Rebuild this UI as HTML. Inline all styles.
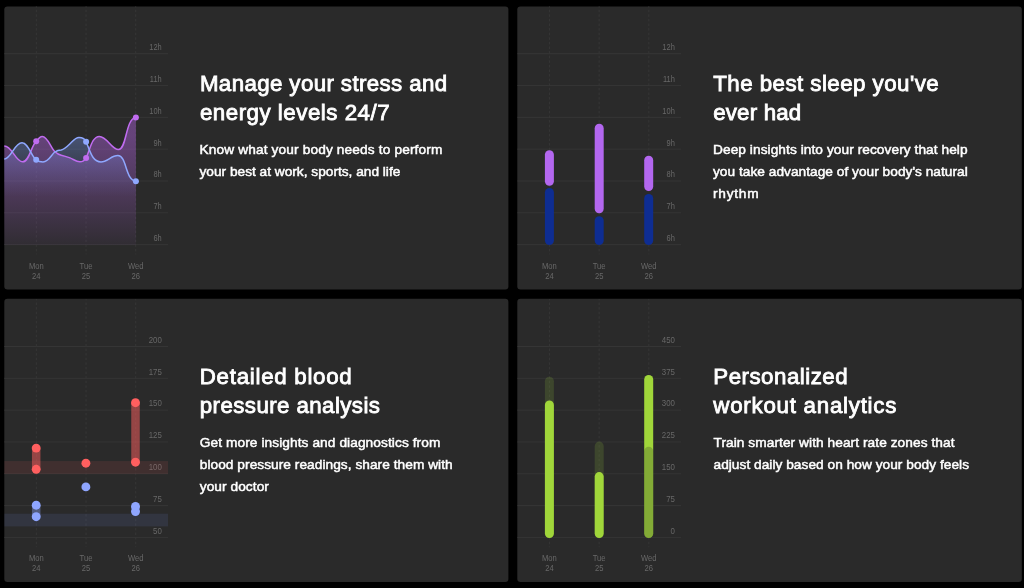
<!DOCTYPE html>
<html lang="en">
<head>
<meta charset="utf-8">
<title>Health insights</title>
<style>
html,body{margin:0;padding:0;background:#000;}
body{width:1024px;height:588px;position:relative;overflow:hidden;font-family:"Liberation Sans",sans-serif;}
#gfx{position:absolute;left:0;top:0;width:1024px;height:588px;display:block;}
.card{position:absolute;width:504px;height:283px;}
.card h2{position:absolute;left:195.6px;top:63.3px;margin:0;font-size:22.3px;line-height:29px;font-weight:normal;color:#fff;-webkit-text-stroke:0.85px #fff;white-space:nowrap;}
.card p{position:absolute;left:195.5px;top:132.7px;margin:0;font-size:13.7px;line-height:22.2px;font-weight:normal;color:#fff;-webkit-text-stroke:0.5px #fff;white-space:nowrap;}
.card span{display:block;}
#c1 h2{left:195.6px;top:62.5px}#c3 h2{left:195.5px;top:63px}#c2 h2{left:195.2px;top:62.5px}#c4 h2{left:195.3px;top:63px}#c2 p{left:195px}#c1 p{left:195.2px}
#c1{left:4.3px;top:6.4px;}
#c2{left:518px;top:6.4px;}
#c3{left:4.3px;top:298.9px;}
#c4{left:518px;top:298.9px;}
svg text{font-family:"Liberation Sans",sans-serif;font-size:8.3px;fill:#686868;}
.grid line{stroke:#353535;stroke-width:1;}
.vgrid line{stroke:#363636;stroke-width:1;stroke-dasharray:2.5 2.1;stroke-dashoffset:1.3;}
</style>
</head>
<body>
<svg id="gfx" width="1024" height="588" viewBox="0 0 1024 588">
  <defs>
    <g id="grid">
      <g class="grid">
        <line x1="0" x2="163.7" y1="47.3" y2="47.3"/>
        <line x1="0" x2="163.7" y1="79.12" y2="79.12"/>
        <line x1="0" x2="163.7" y1="110.94" y2="110.94"/>
        <line x1="0" x2="163.7" y1="142.76" y2="142.76"/>
        <line x1="0" x2="163.7" y1="174.58" y2="174.58"/>
        <line x1="0" x2="163.7" y1="206.4" y2="206.4"/>
        <line x1="0" x2="163.7" y1="238.22" y2="238.22"/>
      </g>
      <g class="vgrid">
        <line x1="32" x2="32" y1="0" y2="248"/>
        <line x1="81.75" x2="81.75" y1="0" y2="248"/>
        <line x1="131.4" x2="131.4" y1="0" y2="248"/>
      </g>
      <g text-anchor="middle">
        <g transform="translate(32 0) scale(0.92 1)"><text x="0" y="262.2">Mon</text><text x="0" y="272.2">24</text></g>
        <g transform="translate(81.75 0) scale(0.92 1)"><text x="0" y="262.2">Tue</text><text x="0" y="272.2">25</text></g>
        <g transform="translate(131.4 0) scale(0.92 1)"><text x="0" y="262.2">Wed</text><text x="0" y="272.2">26</text></g>
      </g>
    </g>
    <g id="hours" text-anchor="end" transform="translate(157.4 0) scale(0.9 1)">
      <text x="0" y="43.65">12h</text>
      <text x="0" y="75.47">11h</text>
      <text x="0" y="107.29">10h</text>
      <text x="0" y="139.11">9h</text>
      <text x="0" y="170.93">8h</text>
      <text x="0" y="202.75">7h</text>
      <text x="0" y="234.57">6h</text>
    </g>
    <linearGradient id="gp" x1="0" y1="130" x2="0" y2="239" gradientUnits="userSpaceOnUse">
      <stop offset="0" stop-color="#b866ea" stop-opacity="0.42"/>
      <stop offset="0.5" stop-color="#b866ea" stop-opacity="0.25"/>
      <stop offset="1" stop-color="#b866ea" stop-opacity="0.045"/>
    </linearGradient>
    <linearGradient id="gb" x1="0" y1="130" x2="0" y2="239" gradientUnits="userSpaceOnUse">
      <stop offset="0" stop-color="#7ea0ff" stop-opacity="0.35"/>
      <stop offset="0.55" stop-color="#7ea0ff" stop-opacity="0.0"/>
      <stop offset="1" stop-color="#7ea0ff" stop-opacity="0"/>
    </linearGradient>
  </defs>

  <!-- cards -->
  <rect x="4.3" y="6.4" width="504.1" height="283.1" rx="3.2" fill="#2a2a2a"/>
  <rect x="517.3" y="6.4" width="504.5" height="283.1" rx="3.2" fill="#2a2a2a"/>
  <rect x="4.3" y="298.85" width="504.1" height="283.05" rx="3.2" fill="#2a2a2a"/>
  <rect x="517.3" y="298.85" width="504.5" height="283.05" rx="3.2" fill="#2a2a2a"/>

  <!-- chart 1 : stress / energy -->
  <use href="#grid" x="4.3" y="6.4"/><use href="#hours" x="4.3" y="6.4"/>
  <g transform="translate(4.3 6.4)">
    <path d="M0 139.6 C8 139.6 11 155.4 18.4 155.4 C25 155.4 27 139 31.9 134.9 C34 132 36 130 38 130 C43.5 130 46 141 50.7 145.4 C53 147.6 55 148.4 56.9 148.8 C60 149.5 63 150.5 65.7 151.5 C69 152.8 72 155.4 75.6 155.4 C79 155.4 81 153 81.8 151.6 C86 142 88 130 95 130 C103 130 107 143.2 114.3 143.2 C122.5 143.2 121 112 131.6 111.2 L131.6 238.7 L0 238.7 Z" fill="url(#gp)"/>
    <path d="M0 152.5 C7 152.5 10 136.3 17.7 136.3 C24 136.3 27 150 31.9 153.4 C34 155 36 155.5 38.7 155.5 C44.5 155.5 46.5 149 50.7 145.4 C53 143.9 55 143.6 56.9 143.5 C60 143 63 140 65.7 137.3 C69 134 71 131 74.7 131 C79 131 81 133 81.8 135.3 C86 145 88 155.5 96.7 155.5 C103 155.5 107 149.2 113.6 149.2 C122.5 149.2 121 174 131.6 174.8 L131.6 238.7 L0 238.7 Z" fill="url(#gb)"/>
    <path d="M0 139.6 C8 139.6 11 155.4 18.4 155.4 C25 155.4 27 139 31.9 134.9 C34 132 36 130 38 130 C43.5 130 46 141 50.7 145.4 C53 147.6 55 148.4 56.9 148.8 C60 149.5 63 150.5 65.7 151.5 C69 152.8 72 155.4 75.6 155.4 C79 155.4 81 153 81.8 151.6 C86 142 88 130 95 130 C103 130 107 143.2 114.3 143.2 C122.5 143.2 121 112 131.6 111.2" fill="none" stroke="#c06cf0" stroke-width="1.5"/>
    <path d="M0 152.5 C7 152.5 10 136.3 17.7 136.3 C24 136.3 27 150 31.9 153.4 C34 155 36 155.5 38.7 155.5 C44.5 155.5 46.5 149 50.7 145.4 C53 143.9 55 143.6 56.9 143.5 C60 143 63 140 65.7 137.3 C69 134 71 131 74.7 131 C79 131 81 133 81.8 135.3 C86 145 88 155.5 96.7 155.5 C103 155.5 107 149.2 113.6 149.2 C122.5 149.2 121 174 131.6 174.8" fill="none" stroke="#8fa8ff" stroke-width="1.5"/>
    <g fill="#c06cf0"><circle cx="31.9" cy="134.9" r="3"/><circle cx="81.8" cy="151.6" r="3"/><circle cx="131.6" cy="111.2" r="3"/></g>
    <g fill="#8fa8ff"><circle cx="31.9" cy="153.4" r="3"/><circle cx="81.8" cy="135.3" r="3"/><circle cx="131.6" cy="174.8" r="3"/></g>
  </g>

  <!-- chart 2 : sleep -->
  <use href="#grid" x="517.4" y="6.4"/><use href="#hours" x="517.4" y="6.4"/>
  <g transform="translate(517.4 6.4)">
    <g stroke-linecap="round" stroke-width="9" fill="none">
      <g stroke="#b367ef">
        <line x1="32" x2="32" y1="148.3" y2="174.8"/>
        <line x1="81.8" x2="81.8" y1="121.9" y2="202.3"/>
        <line x1="131.3" x2="131.3" y1="153.9" y2="180.2"/>
      </g>
      <g stroke="#0e2d92">
        <line x1="32" x2="32" y1="186.05" y2="234.2"/>
        <line x1="81.8" x2="81.8" y1="214.3" y2="234.2"/>
        <line x1="131.3" x2="131.3" y1="192" y2="234.2"/>
      </g>
    </g>
  </g>

  <!-- chart 3 : blood pressure -->
  <use href="#grid" x="4.3" y="299.2"/>
  <g transform="translate(4.3 298.9)">
    <g text-anchor="end" transform="translate(157.5 0) scale(0.95 1)">
      <text x="0" y="43.95">200</text>
      <text x="0" y="75.77">175</text>
      <text x="0" y="107.59">150</text>
      <text x="0" y="139.41">125</text>
      <text x="0" y="171.23">100</text>
      <text x="0" y="203.05">75</text>
      <text x="0" y="234.87">50</text>
    </g>
    <rect x="0" y="162.2" width="163.7" height="12.8" fill="#ff5a5a" fill-opacity="0.105"/>
    <rect x="0" y="214.8" width="163.7" height="12.7" fill="#7f9bff" fill-opacity="0.105"/>
    <g stroke="#ff5f5f" stroke-opacity="0.5" stroke-width="8.5" fill="none">
      <line x1="31.9" x2="31.9" y1="149.2" y2="170.4"/>
      <line x1="131.2" x2="131.2" y1="103.8" y2="163.3"/>
    </g>
    <g stroke="#8fa6ff" stroke-opacity="0.4" stroke-width="8.5" fill="none">
      <line x1="31.9" x2="31.9" y1="206.3" y2="217.8"/>
      <line x1="131.2" x2="131.2" y1="207.6" y2="212.7"/>
    </g>
    <g fill="#ff5f5f">
      <circle cx="31.9" cy="149.2" r="4.45"/><circle cx="31.9" cy="170.4" r="4.45"/>
      <circle cx="81.6" cy="164.3" r="4.45"/>
      <circle cx="131.2" cy="103.8" r="4.45"/><circle cx="131.2" cy="163.3" r="4.45"/>
    </g>
    <g fill="#8fa6ff">
      <circle cx="31.9" cy="206.3" r="4.45"/><circle cx="31.9" cy="217.8" r="4.45"/>
      <circle cx="81.6" cy="188" r="4.45"/>
      <circle cx="131.2" cy="207.6" r="4.45"/><circle cx="131.2" cy="212.7" r="4.45"/>
    </g>
  </g>

  <!-- chart 4 : workout -->
  <use href="#grid" x="517.4" y="299.2"/>
  <g transform="translate(517.4 298.9)">
    <g text-anchor="end" transform="translate(157.5 0) scale(0.95 1)">
      <text x="0" y="43.95">450</text>
      <text x="0" y="75.77">375</text>
      <text x="0" y="107.59">300</text>
      <text x="0" y="139.41">225</text>
      <text x="0" y="171.23">150</text>
      <text x="0" y="203.05">75</text>
      <text x="0" y="234.87">0</text>
    </g>
    <g stroke-linecap="round" stroke-width="9" fill="none">
      <line x1="32" x2="32" y1="82.3" y2="234.6" stroke="#a0d63a" stroke-opacity="0.165"/>
      <line x1="32" x2="32" y1="106.1" y2="234.6" stroke="#a0d63a"/>
      <line x1="81.8" x2="81.8" y1="147.2" y2="234.6" stroke="#a0d63a" stroke-opacity="0.165"/>
      <line x1="81.8" x2="81.8" y1="177.7" y2="234.6" stroke="#a0d63a"/>
      <line x1="131.3" x2="131.3" y1="80.6" y2="234.6" stroke="#a0d63a"/>
      <line x1="131.3" x2="131.3" y1="152.3" y2="234.6" stroke="#2a2a2a" stroke-opacity="0.25"/>
    </g>
  </g>
</svg>

<section class="card" id="c1">
  <h2><span style="letter-spacing:0.386px">Manage your stress and</span><span style="letter-spacing:0.512px">energy levels 24/7</span></h2>
  <p><span style="letter-spacing:0.136px">Know what your body needs to perform</span><span style="letter-spacing:0.0px">your best at work, sports, and life</span></p>
</section>
<section class="card" id="c2">
  <h2><span style="letter-spacing:0.464px">The best sleep you've</span><span style="letter-spacing:0.175px">ever had</span></h2>
  <p><span style="letter-spacing:0.067px">Deep insights into your recovery that help</span><span style="letter-spacing:0.025px">you take advantage of your body's natural</span><span style="letter-spacing:0.751px">rhythm</span></p>
</section>
<section class="card" id="c3">
  <h2><span style="letter-spacing:0.724px">Detailed blood</span><span style="letter-spacing:0.414px">pressure analysis</span></h2>
  <p><span style="letter-spacing:0.086px">Get more insights and diagnostics from</span><span style="letter-spacing:0.046px">blood pressure readings, share them with</span><span style="letter-spacing:0.06px">your doctor</span></p>
</section>
<section class="card" id="c4">
  <h2><span style="letter-spacing:0.495px">Personalized</span><span style="letter-spacing:0.753px">workout analytics</span></h2>
  <p><span style="letter-spacing:0.066px">Train smarter with heart rate zones that</span><span style="letter-spacing:0.034px">adjust daily based on how your body feels</span></p>
</section>
</body>
</html>
